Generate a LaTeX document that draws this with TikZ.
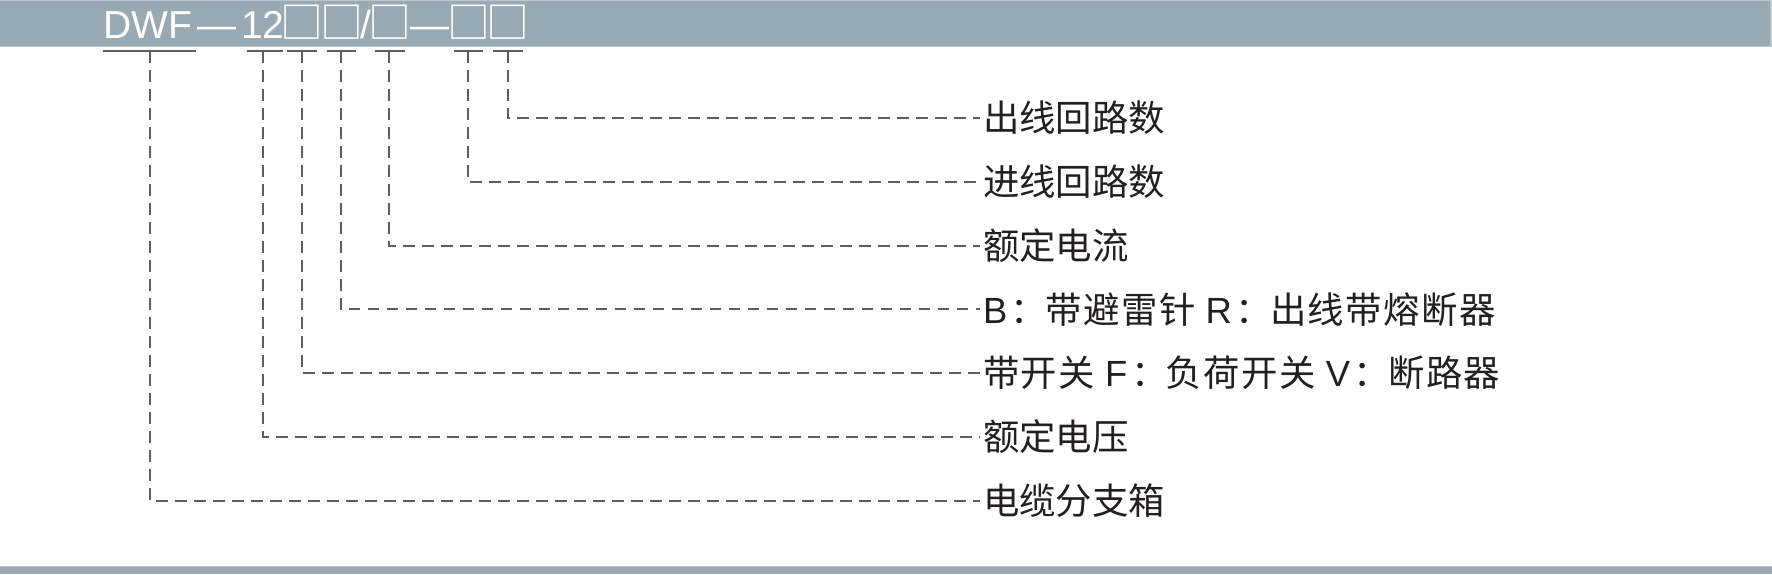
\documentclass[tikz,border=0pt]{standalone}
\usepackage{fontspec}
\setmainfont{Noto Sans CJK SC}
\newfontfamily\lat{Liberation Sans}
\definecolor{barcol}{HTML}{98A9B4}
\definecolor{baredge}{HTML}{BAC7CF}
\definecolor{linecol}{HTML}{5E5E5E}
\definecolor{txtcol}{HTML}{231F20}
\newcommand{\cell}[2]{\makebox[0pt][c]{#2}\hspace{#1}}
\newcommand{\sq}{\scalebox{1.1}{□}}
\newcommand{\fcolon}{\makebox[1.05em][l]{\hspace{0.1em}：}}
\begin{document}
\begin{tikzpicture}[x=0.5pt,y=-0.5pt,
  uline/.style={draw=linecol, line width=1pt},
  lead/.style={draw=linecol, line width=1pt, dash pattern=on 5.85pt off 3.65pt},
  lbl/.style={anchor=west, inner sep=1.5pt, outer sep=0pt, text=txtcol, font=\fontsize{18.2pt}{20pt}\selectfont},
  wide/.style={font=\fontsize{18.2pt}{20pt}\selectfont\addfontfeature{LetterSpace=4}},
  ttl/.style={anchor=base west, inner sep=0pt, text=white, font=\fontsize{19.5pt}{22pt}\selectfont}]
\useasboundingbox (0,0) rectangle (1772,574);
\fill[white] (0,0) rectangle (1772,574);
% bars
\fill[baredge] (0,0) rectangle (1772,47);
\fill[barcol] (0,1) rectangle (1770,46);
\fill[baredge] (0,566) rectangle (1772,574);
\fill[barcol] (0,567) rectangle (1772,574);
% title (glyph centres placed to match the reference)
\node[ttl] (code) at (103,38) {\makebox[0pt][l]{\lat DWF}\hspace{57pt}%
\cell{22.75pt}{\lat —}%
\cell{19.75pt}{\lat 12}%
\cell{19.75pt}{\sq}%
\cell{12.25pt}{\sq}%
\cell{12pt}{\lat /}%
\cell{20pt}{\sq}%
\cell{19.25pt}{\lat —}%
\cell{19.75pt}{\sq}%
\cell{7.5pt}{\sq}};
% underlines
\draw[uline] (103,51) -- (196,51);
\draw[uline] (247,51) -- (283,51);
\draw[uline] (287,51) -- (317,51);
\draw[uline] (327,51) -- (356,51);
\draw[uline] (375,51) -- (405,51);
\draw[uline] (454,51) -- (483,51);
\draw[uline] (493,51) -- (523,51);
% tick points
\coordinate (t1) at (508,51);
\coordinate (t2) at (468,51);
\coordinate (t3) at (389,51);
\coordinate (t4) at (341,51);
\coordinate (t5) at (302,51);
\coordinate (t6) at (263,51);
\coordinate (t7) at (150,51);
% labels
\node[lbl] (l1) at (980,118) {出线回路数};
\node[lbl] (l2) at (980,181.8) {进线回路数};
\node[lbl] (l3) at (980,245.6) {额定电流};
\node[lbl,wide] (l4) at (980,309.4) {{\lat B}\fcolon 带避雷针{\lat\ R}\fcolon 出线带熔断器};
\node[lbl,wide] (l5) at (980,373.2) {带开关{\lat\ F}\fcolon 负荷开关{\lat\ V}\fcolon 断路器};
\node[lbl] (l6) at (980,437) {额定电压};
\node[lbl] (l7) at (980,500.8) {电缆分支箱};
% leaders
\draw[lead] (t1) |- (l1);
\draw[lead] (t2) |- (l2);
\draw[lead] (t3) |- (l3);
\draw[lead] (t4) |- (l4);
\draw[lead] (t5) |- (l5);
\draw[lead] (t6) |- (l6);
\draw[lead] (t7) |- (l7);
\end{tikzpicture}
\end{document}
